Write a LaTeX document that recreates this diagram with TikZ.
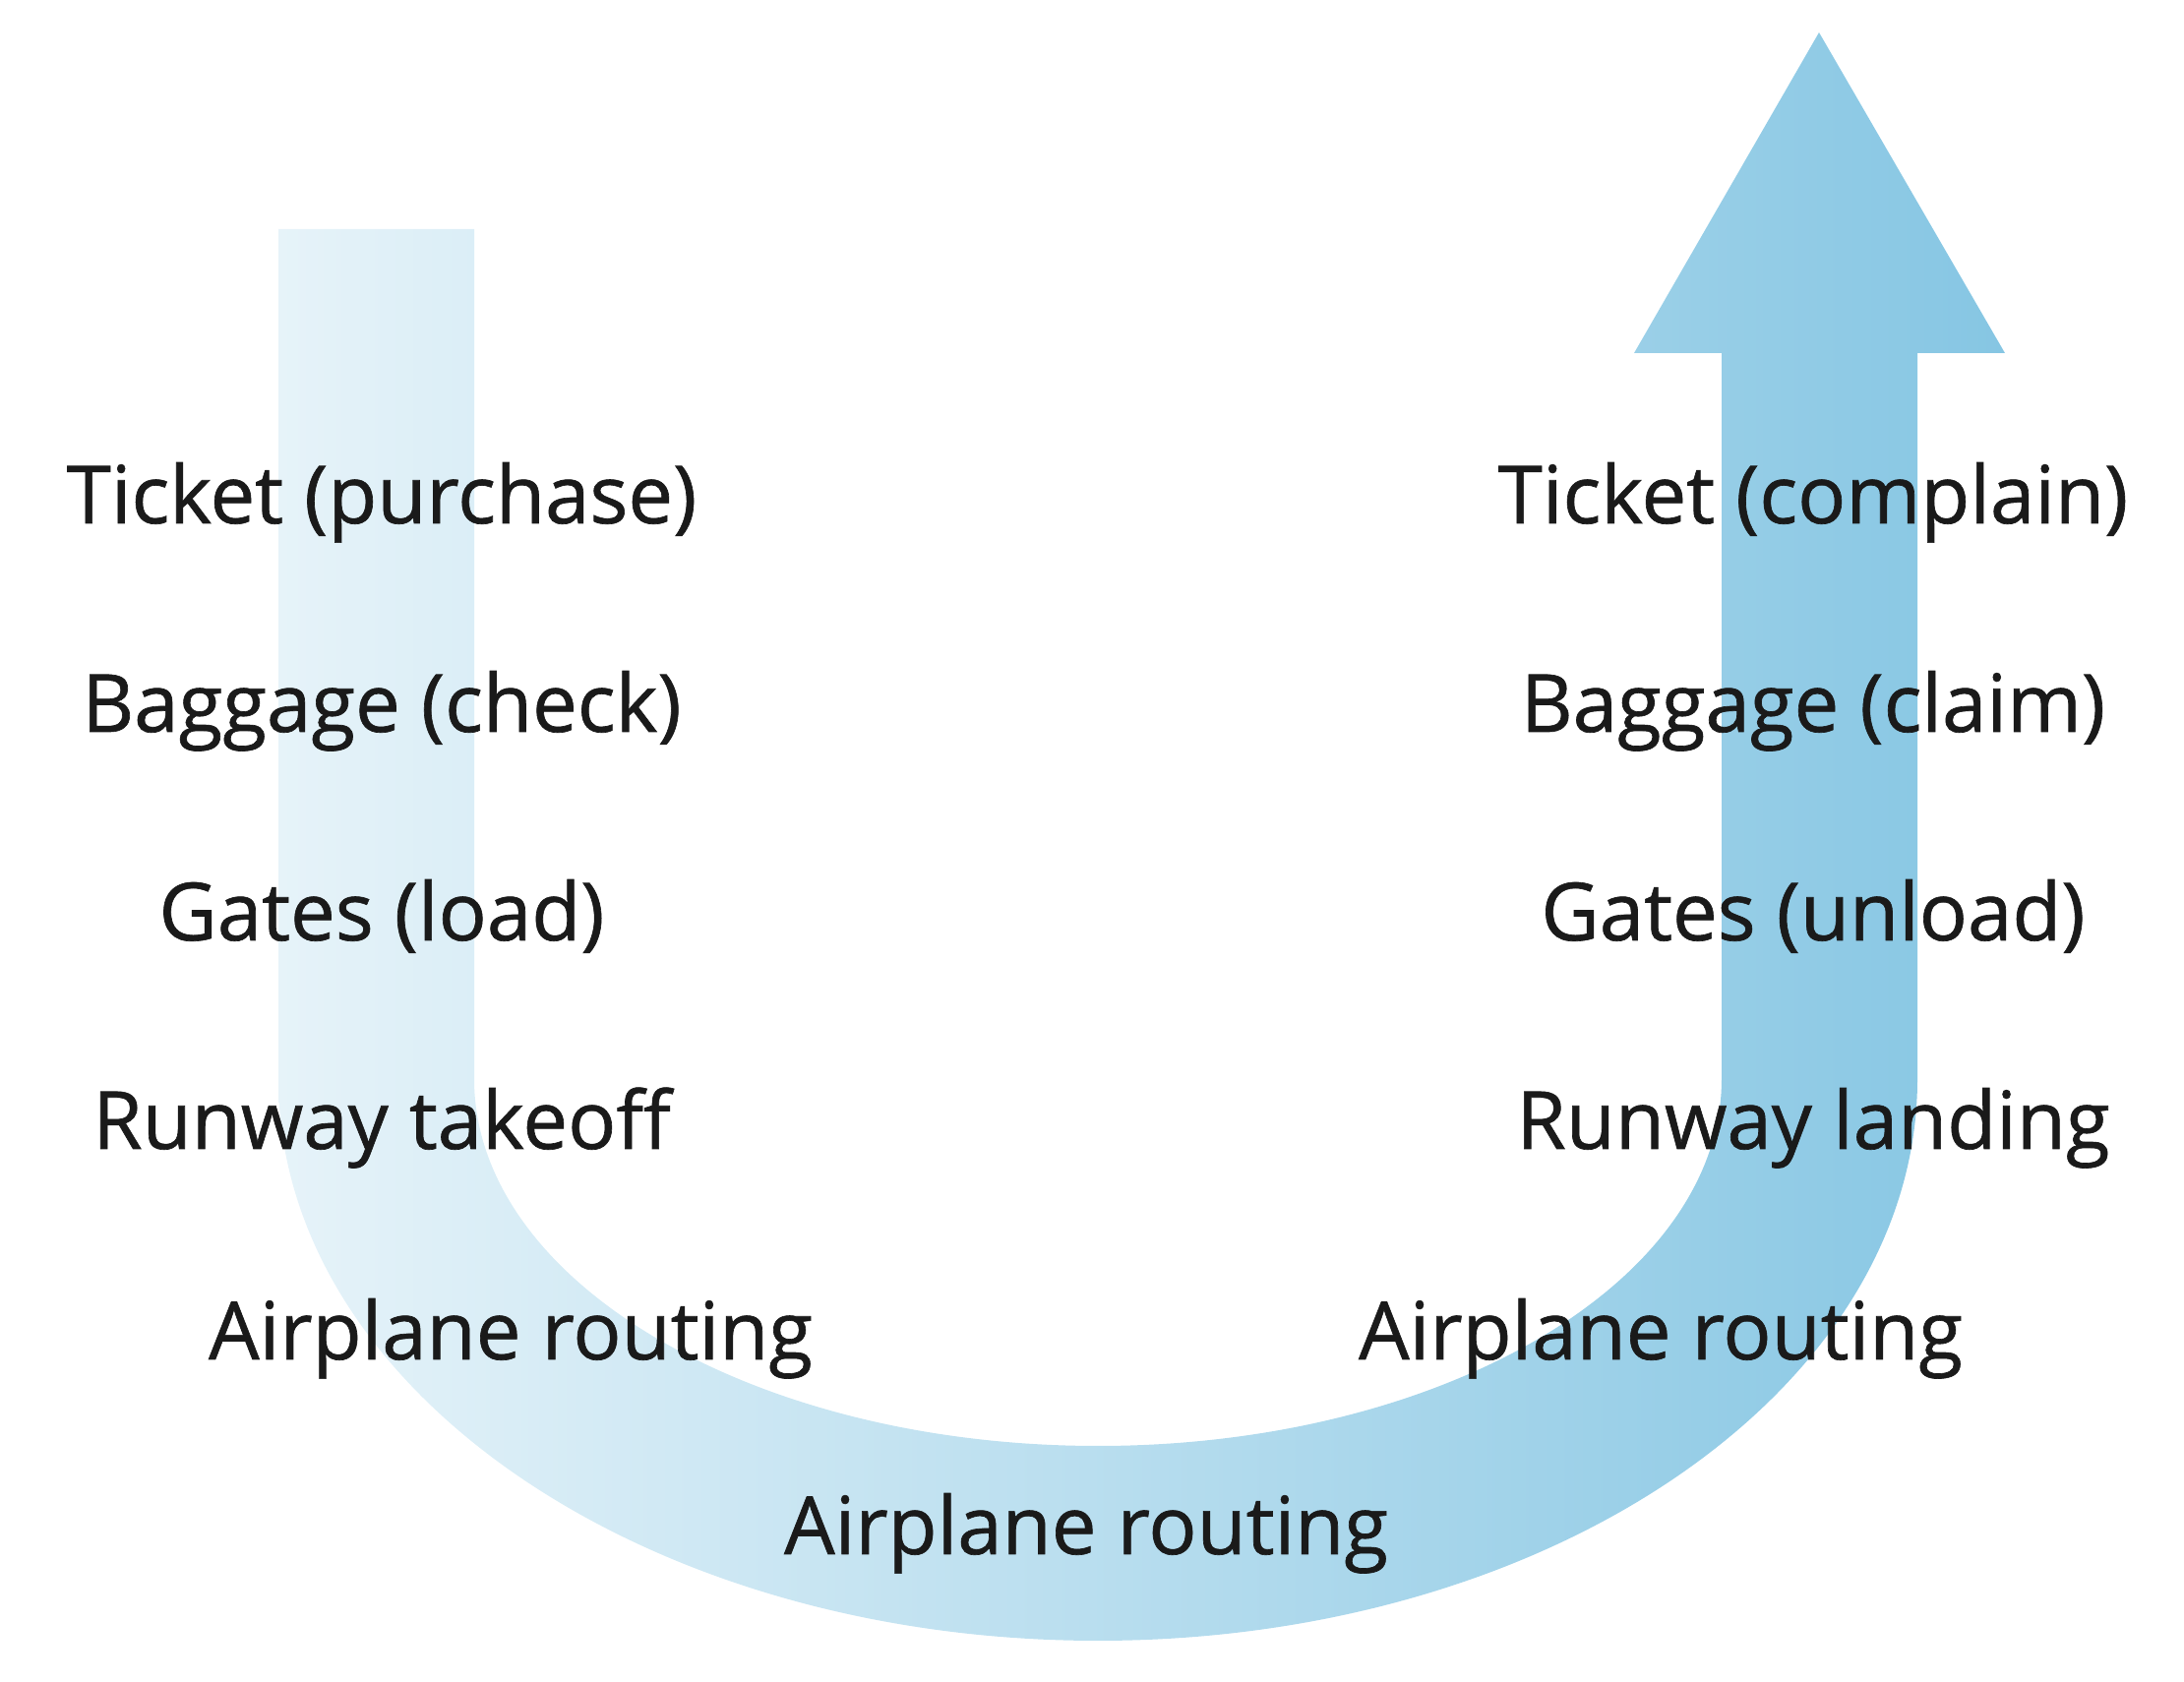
\documentclass[tikz,border=0pt]{standalone}
\usepackage{fontspec}
\setmainfont{Open Sans}
\newfontfamily\etapafont{Open Sans}[FakeBold=0.8]
\usepackage{xcolor}
\usepackage{tikz}
\usetikzlibrary{positioning}
\definecolor{faixaclara}{RGB}{230,243,249}
\definecolor{faixaescura}{RGB}{134,198,227}
\definecolor{textoescuro}{RGB}{26,26,26}
\tikzset{
  etapa/.style={anchor=base,inner sep=0pt,text=textoescuro,
    font=\etapafont\fontsize{23.2}{27}\selectfont},
  faixa/.style={left color=faixaclara,right color=faixaescura,draw=none}
}
\begin{document}
\begin{tikzpicture}[x=0.01cm,y=-0.01cm]
\useasboundingbox (0,0) rectangle (2220,1710);
% the U-shaped band with its head
\path[faixa] (283,233) -- (283,1097)
  arc[start angle=180,end angle=360,x radius=833,y radius=-571]
  -- (1949,359) -- (2038,359) -- (1849,33) -- (1661,359) -- (1750,359)
  -- (1750,1097)
  arc[start angle=0,end angle=-180,x radius=634,y radius=-373]
  -- (482,233) -- cycle;
% going out
\node[etapa] (tkL)    at (388,532)  {Ticket (purchase)};
\node[etapa] (bagL)   at (388,744)  {Baggage (check)};
\node[etapa] (gateL)  at (388,956)  {Gates (load)};
\node[etapa] (rwyL)   at (388,1168) {Runway takeoff};
\node[etapa] (routeL) at (519,1382) {Airplane routing};
\node[etapa] (routeM) at (1104,1580) {Airplane routing};
% coming back
\node[etapa] (routeR) at (1688,1382) {Airplane routing};
\node[etapa] (rwyR)   at (1843,1168) {Runway landing};
\node[etapa] (gateR)  at (1843,956)  {Gates (unload)};
\node[etapa] (bagR)   at (1843,744)  {Baggage (claim)};
\node[etapa] (tkR)    at (1843,532)  {Ticket (complain)};
\end{tikzpicture}
\end{document}
